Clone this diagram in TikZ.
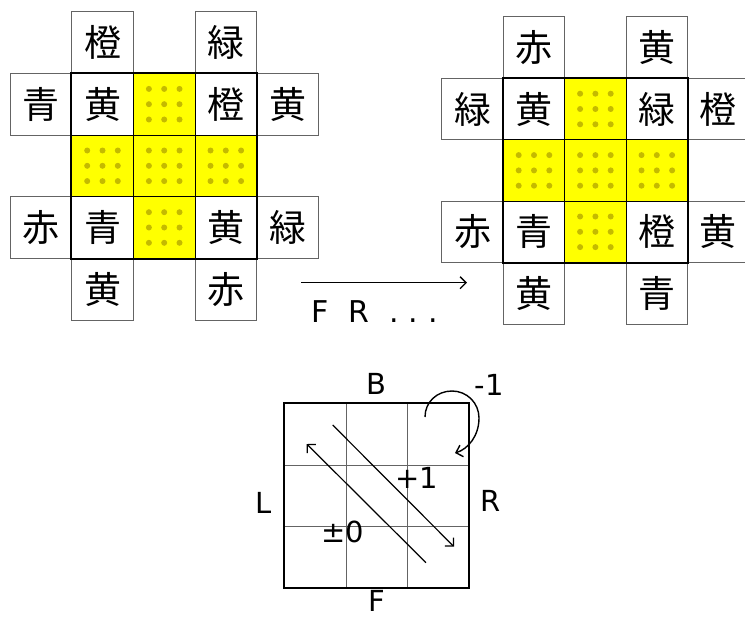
\documentclass[tikz,border=0pt]{standalone}
\usepackage{fontspec}
\setmainfont{DejaVu Sans}
\newfontfamily\jpfont{Noto Sans CJK JP}
\usetikzlibrary{arrows.meta}
\definecolor{dotc}{RGB}{196,186,0}
\definecolor{cubey}{RGB}{255,255,0}
\definecolor{edgegray}{RGB}{100,100,100}
\begin{document}
\begin{tikzpicture}[x=1pt,y=-1pt,
  kanji/.style={font=\jpfont\fontsize{37}{37}\selectfont},
  sticker/.style={kanji, draw=edgegray, line width=0.8pt, minimum size=61.6pt, inner sep=0pt},
  core/.style={kanji, draw=black, line width=1pt, minimum size=61.6pt, inner sep=0pt},
  ycell/.style={core, fill=cubey, path picture={
      \foreach \i in {-1,0,1} \foreach \j in {-1,0,1}
        \fill[dotc] ([shift={(\i*15.3pt,\j*15.3pt)}]path picture bounding box.center) circle (3pt);}},
  coreframe/.style={line width=1.6pt},
  thincell/.style={draw=edgegray, line width=0.8pt, minimum size=61.67pt, inner sep=0pt},
  lbl/.style={font=\fontsize{29}{29}\selectfont, inner sep=0pt},
  arr/.style={line width=1.3pt, -{Straight Barb[length=6pt,width=12pt]}},
]
\useasboundingbox (0,0) rectangle (745,618);

% ---------- left cube face ----------
\node[sticker] (aT1) at (102.5,42.5) {橙};
\node[sticker] (aT3) at (225.8,42.5) {緑};
\node[sticker] (aL1) at (40.8,104.2) {青};
\node[sticker] (aR1) at (287.5,104.2) {黄};
\node[sticker] (aL3) at (40.8,227.5) {赤};
\node[sticker] (aR3) at (287.5,227.5) {緑};
\node[sticker] (aB1) at (102.5,289.2) {黄};
\node[sticker] (aB3) at (225.8,289.2) {赤};
\node[core]  (a11) at (102.5,104.2) {黄};
\node[ycell] (a12) at (164.2,104.2) {};
\node[core]  (a13) at (225.8,104.2) {橙};
\node[ycell] (a21) at (102.5,165.8) {};
\node[ycell] (a22) at (164.2,165.8) {};
\node[ycell] (a23) at (225.8,165.8) {};
\node[core]  (a31) at (102.5,227.5) {青};
\node[ycell] (a32) at (164.2,227.5) {};
\node[core]  (a33) at (225.8,227.5) {黄};
\draw[coreframe] (a11.north west) rectangle (a33.south east);

% ---------- right cube face ----------
\node[sticker] (bT1) at (534.0,47.6) {赤};
\node[sticker] (bT3) at (656.8,47.6) {黄};
\node[sticker] (bL1) at (472.6,109.0) {緑};
\node[sticker] (bR1) at (718.2,109.0) {橙};
\node[sticker] (bL3) at (472.6,231.8) {赤};
\node[sticker] (bR3) at (718.2,231.8) {黄};
\node[sticker] (bB1) at (534.0,293.2) {黄};
\node[sticker] (bB3) at (656.8,293.2) {青};
\node[core]  (b11) at (534.0,109.0) {黄};
\node[ycell] (b12) at (595.4,109.0) {};
\node[core]  (b13) at (656.8,109.0) {緑};
\node[ycell] (b21) at (534.0,170.4) {};
\node[ycell] (b22) at (595.4,170.4) {};
\node[ycell] (b23) at (656.8,170.4) {};
\node[core]  (b31) at (534.0,231.8) {青};
\node[ycell] (b32) at (595.4,231.8) {};
\node[core]  (b33) at (656.8,231.8) {橙};
\draw[coreframe] (b11.north west) rectangle (b33.south east);

% ---------- transition arrow ----------
\coordinate (t1) at (301,282.7);
\coordinate (t2) at (467,282.7);
\draw[arr] (t1) -- (t2);
\node[font=\fontsize{30}{30}\selectfont, inner sep=0pt, anchor=west] (moves) at (311,312)
  {F\hspace{20pt}R\hspace{20pt}.\hspace{10pt}.\hspace{10pt}.};

% ---------- bottom diagram ----------
\foreach \c/\x/\y in {c11/315.1/434.1, c12/376.8/434.1, c13/438.5/434.1,
                      c21/315.1/495.8, c22/376.8/495.8, c23/438.5/495.8,
                      c31/315.1/557.5, c32/376.8/557.5, c33/438.5/557.5}
  \node[thincell] (\c) at (\x,\y) {};
\node[draw=black, line width=1.8pt, minimum size=185pt, inner sep=0pt] (sq) at (376.8,495.8) {};

\node[lbl] (lB) at (376,384) {B};
\node[lbl] (lF) at (376.7,601) {F};
\node[lbl] (lL) at (263.3,503) {L};
\node[lbl] (lR) at (490.7,501) {R};
\node[lbl] (lm1) at (489,385) {-1};
\node[lbl] (lp1) at (417,478) {+1};
\node[lbl] (lz) at (343,532) {±0};

\coordinate (d1s) at (332.7,425);
\coordinate (d1e) at (454,546.7);
\coordinate (d2s) at (426,562.7);
\coordinate (d2e) at (306.7,444);
\draw[arr, line width=1.2pt] (d1s) -- (d1e);
\draw[arr, line width=1.2pt] (d2s) -- (d2e);

\coordinate (cs) at (425,417);
\coordinate (ce) at (455,453);
\draw[arr, line width=1.4pt] (cs) .. controls (425,402) and (437,391) .. (452,391)
  .. controls (467,391) and (479,403) .. (479,418)
  .. controls (479,436) and (468,449) .. (ce);
\end{tikzpicture}
\end{document}
